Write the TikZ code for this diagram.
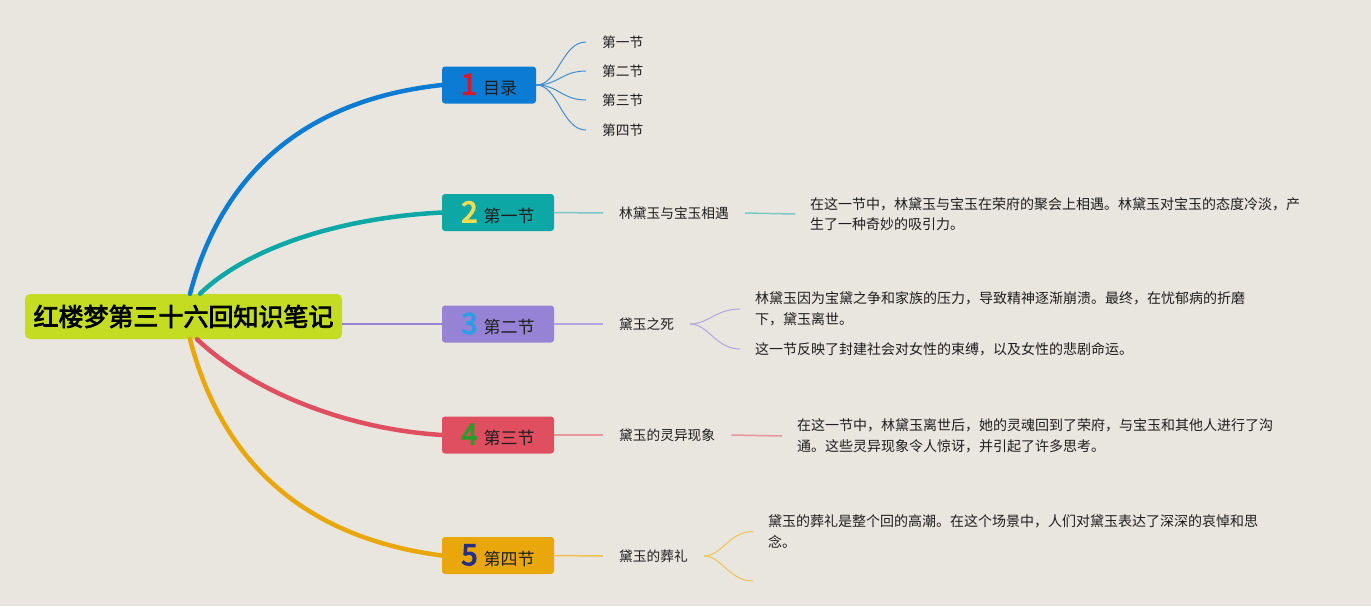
\documentclass[tikz,border=0pt]{standalone}
\usepackage{fontspec}
\setmainfont[AutoFakeBold=3]{Noto Sans CJK SC}
\newfontfamily\numf[FakeBold=4]{Noto Sans CJK SC}
\usetikzlibrary{calc}
\definecolor{bgc}{HTML}{E9E6DF}
\definecolor{rootc}{HTML}{C4DD22}
\definecolor{c1}{HTML}{0B7BD3}
\definecolor{c2}{HTML}{0DA8A6}
\definecolor{c3}{HTML}{9683D6}
\definecolor{c4}{HTML}{E04F5F}
\definecolor{c5}{HTML}{E9A70C}
\definecolor{n1}{HTML}{D31A2A}
\definecolor{n2}{HTML}{F3DC4E}
\definecolor{n3}{HTML}{2E9CE4}
\definecolor{n4}{HTML}{2E9A2E}
\definecolor{n5}{HTML}{243184}
\definecolor{l1}{HTML}{3F8DD2}
\definecolor{l2}{HTML}{7CC7C4}
\definecolor{l3}{HTML}{B2A5E0}
\definecolor{l4}{HTML}{E8959C}
\definecolor{l5}{HTML}{F0C24F}
\definecolor{txt}{HTML}{1E1E1E}
\newcommand{\numtag}[2]{{\numf\fontsize{29}{30}\selectfont\color{#1}#2}\hspace{6pt}}
\tikzset{
  rootbox/.style={fill=rootc, rounded corners=5pt, minimum height=45pt, minimum width=317pt,
    inner xsep=0pt, inner ysep=0pt, font=\fontsize{25}{30}\selectfont\bfseries, text=black},
  secbox/.style={rounded corners=3pt, minimum height=37pt, inner xsep=0pt, inner ysep=0pt,
    font=\fontsize{17}{20}\selectfont, text=txt},
  lbl/.style={anchor=west, inner xsep=16pt, inner ysep=2pt, font=\fontsize{13.7}{20}\selectfont, text=txt},
  desc/.style={lbl, align=left, inner xsep=15pt, font=\fontsize{14}{20.5}\selectfont},
  trunk/.style={line width=4.5pt, line cap=round},
  twig/.style={line width=1pt},
}
\begin{document}
\begin{tikzpicture}[x=1pt,y=-1pt]
\fill[bgc] (0,0) rectangle (1371,606);
\useasboundingbox (0,0) rectangle (1371,606);

% root and section boxes
\node[rootbox] (root) at (183.5,316.5) {红楼梦第三十六回知识笔记};
\node[secbox, fill=c1, minimum width=94pt] (b1) at (489,85) {\numtag{n1}{1}目录};
\node[secbox, fill=c2, minimum width=112pt] (b2) at (498,212.5) {\numtag{n2}{2}第一节};
\node[secbox, fill=c3, minimum width=112pt] (b3) at (498,324) {\numtag{n3}{3}第二节};
\node[secbox, fill=c4, minimum width=112pt] (b4) at (498,435) {\numtag{n4}{4}第三节};
\node[secbox, fill=c5, minimum width=112pt] (b5) at (498,555.5) {\numtag{n5}{5}第四节};

% trunks
\draw[trunk, c1] ([xshift=6.5pt]root.north) .. controls (226,158) and (322,98) .. (b1.west);
\draw[trunk, c2] ([xshift=16.5pt]root.north) .. controls (245,250) and (335,218) .. (b2.west);
\draw[line width=2pt, c3] (root.east |- b3.west) -- (b3.west);
\draw[trunk, c4] ([xshift=13.5pt]root.south) .. controls (245,385) and (335,428) .. (b4.west);
\draw[trunk, c5] ([xshift=6.5pt]root.south) .. controls (226,478) and (322,540) .. (b5.west);

% 目录 children
\node[lbl] (s1) at (586,42) {第一节};
\node[lbl] (s2) at (586,71) {第二节};
\node[lbl] (s3) at (586,100) {第三节};
\node[lbl] (s4) at (586,130) {第四节};
\foreach \s in {s1,s2,s3,s4}
  \draw[twig, l1] (b1.east) .. controls +(22,0) and +(-24,0) .. (\s.west);

% 第一节
\node[lbl] (t2) at (603,213) {林黛玉与宝玉相遇};
\node[desc] (d2) at (795,214) {在这一节中，林黛玉与宝玉在荣府的聚会上相遇。林黛玉对宝玉的态度冷淡，产\\生了一种奇妙的吸引力。};
\draw[twig, l2, line width=1.5pt] (b2.east) -- (t2.west);
\draw[twig, l2, line width=1.5pt] (t2.east) -- (d2.west);

% 第二节
\node[lbl] (t3) at (603,324) {黛玉之死};
\node[desc] (d31) at (740,309) {林黛玉因为宝黛之争和家族的压力，导致精神逐渐崩溃。最终，在忧郁病的折磨\\下，黛玉离世。};
\node[desc] (d32) at (740,349) {这一节反映了封建社会对女性的束缚，以及女性的悲剧命运。};
\draw[twig, l3, line width=1.5pt] (b3.east) -- (t3.west);
\draw[twig, l3] (t3.east) .. controls +(18,0) and +(-24,0) .. (d31.west);
\draw[twig, l3] (t3.east) .. controls +(18,0) and +(-24,0) .. (d32.west);

% 第三节
\node[lbl] (t4) at (603,435) {黛玉的灵异现象};
\node[desc] (d4) at (782,436) {在这一节中，林黛玉离世后，她的灵魂回到了荣府，与宝玉和其他人进行了沟\\通。这些灵异现象令人惊讶，并引起了许多思考。};
\draw[twig, l4, line width=1.5pt] (b4.east) -- (t4.west);
\draw[twig, l4, line width=1.5pt] (t4.east) -- (d4.west);

% 第四节
\node[lbl] (t5) at (603,556) {黛玉的葬礼};
\node[desc] (d5) at (753,531.5) {黛玉的葬礼是整个回的高潮。在这个场景中，人们对黛玉表达了深深的哀悼和思\\念。};
\coordinate (e5) at (753,581);
\draw[twig, l5, line width=1.5pt] (b5.east) -- (t5.west);
\draw[twig, l5] (t5.east) .. controls +(18,0) and +(-24,0) .. (d5.west);
\draw[twig, l5] (t5.east) .. controls +(18,0) and +(-24,0) .. (e5);
\end{tikzpicture}
\end{document}
